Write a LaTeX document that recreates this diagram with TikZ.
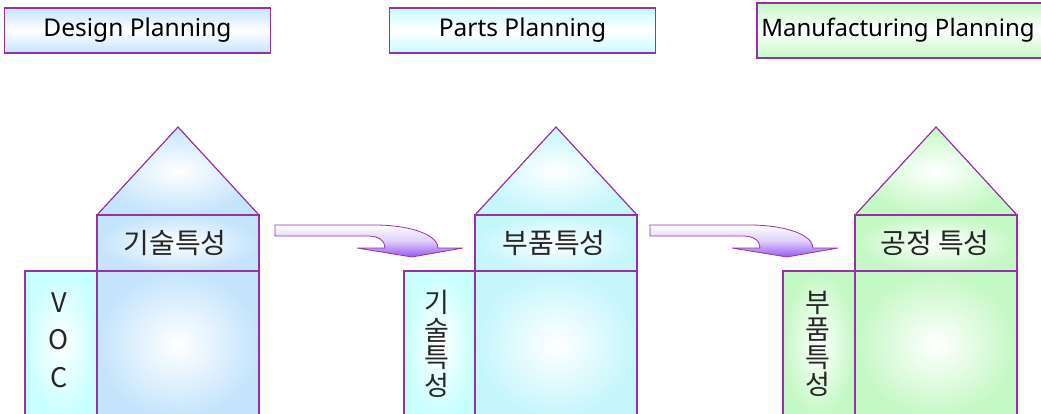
\documentclass[tikz,border=0pt]{standalone}
\usepackage{fontspec}
\setmainfont{Noto Sans}
\newfontfamily\kr{Noto Sans CJK KR}
\definecolor{edgecol}{RGB}{150,50,165}
\definecolor{blueA}{RGB}{196,228,252}
\definecolor{cyanA}{RGB}{196,246,252}
\definecolor{cyanS}{RGB}{200,255,255}
\definecolor{greenA}{RGB}{196,248,196}
\definecolor{hdrBlue}{RGB}{196,228,252}
\definecolor{hdrCyan}{RGB}{200,250,255}
\definecolor{hdrGreen}{RGB}{196,248,196}
\definecolor{arrowPurple}{RGB}{150,90,240}
\tikzset{
  edge/.style={draw=edgecol, line width=1.2pt},
  hdrbox/.style={edge, line width=1.1pt, minimum height=45pt, inner sep=0pt,
     font=\fontsize{24.5}{29}\selectfont, text=black},
  hbox/.style={edge, inner sep=0pt, inner color=white},
  krtext/.style={font=\kr\fontsize{28}{30}\selectfont, text=black!85, inner sep=0pt},
  vtext/.style={font=\kr\fontsize{27}{27.5}\selectfont, text=black!85, inner sep=0pt, align=center},
  blockarrow/.style={draw=edgecol, line width=0.8pt, top color=white, bottom color=arrowPurple, middle color=white!70!arrowPurple},
}
\begin{document}
\begin{tikzpicture}[x=1pt,y=-1pt]
\useasboundingbox (0,0) rectangle (1041,414);
\clip (0,0) rectangle (1041,414);

% headers
\node (hd1) [hdrbox, minimum width=266pt, top color=hdrBlue, bottom color=hdrBlue, middle color=white] at (137.5,30.5) {Design Planning};
\node (hd2) [hdrbox, minimum width=266pt, top color=hdrCyan, bottom color=hdrCyan, middle color=white] at (522.5,30.5) {Parts Planning};
\node (hd3) [hdrbox, minimum width=290pt, minimum height=55pt, top color=hdrGreen, bottom color=hdrGreen, middle color=white] at (902,30.5) {};
\node (hd3t) [font=\fontsize{24}{29}\selectfont, inner sep=0pt] at (898,30.5) {Manufacturing Planning};

% house 1
\fill[inner color=white, outer color=blueA] (97,215) -- (178,127) -- (259,215) -- cycle;
\draw[edge] (97,215) -- (178,127) -- (259,215);
\node (h1top) [hbox, outer color=blueA, minimum width=162pt, minimum height=56pt] at (178,243) {};
\node (h1main) [hbox, outer color=blueA, minimum width=162pt, minimum height=147pt] at (178,344.5) {};
\node (h1side) [hbox, outer color=cyanS, minimum width=72pt, minimum height=147pt] at (61,344.5) {};
\node (t1top) [krtext] at (175,243) {기술특성};
\node (t1side) [vtext, font=\kr\fontsize{27}{37.5}\selectfont] at (59,340) {V\\O\\C};

% house 2
\fill[inner color=white, outer color=cyanA] (475,215) -- (556,127) -- (637,215) -- cycle;
\draw[edge] (475,215) -- (556,127) -- (637,215);
\node (h2top) [hbox, outer color=cyanA, minimum width=162pt, minimum height=56pt] at (556,243) {};
\node (h2main) [hbox, outer color=cyanA, minimum width=162pt, minimum height=147pt] at (556,344.5) {};
\node (h2side) [hbox, outer color=cyanS, minimum width=71pt, minimum height=147pt] at (439.5,344.5) {};
\node (t2top) [krtext] at (554,243) {부품특성};
\node (t2side) [vtext] at (437,344) {기\\술\\특\\성};

% house 3
\fill[inner color=white, outer color=greenA] (855,215) -- (936,127) -- (1017,215) -- cycle;
\draw[edge] (855,215) -- (936,127) -- (1017,215);
\node (h3top) [hbox, outer color=greenA, minimum width=162pt, minimum height=56pt] at (936,243) {};
\node (h3main) [hbox, outer color=greenA, minimum width=162pt, minimum height=147pt] at (936,344.5) {};
\node (h3side) [hbox, outer color=greenA, minimum width=72pt, minimum height=147pt] at (819,344.5) {};
\node (t3top) [krtext] at (935,243) {공정 특성};
\node (t3side) [vtext] at (818,344) {부\\품\\특\\성};

% curved block arrows
\foreach \dx in {0,375}{
\begin{scope}[xshift=\dx]
\draw[blockarrow] (275,225) -- (378,225) .. controls (415,226) and (438,236) .. (438,248)
   -- (463,248) -- (412,257) -- (357,248) -- (385,248)
   .. controls (385,241) and (379,236) .. (368,236) -- (275,236) -- cycle;
\end{scope}}
\end{tikzpicture}
\end{document}
